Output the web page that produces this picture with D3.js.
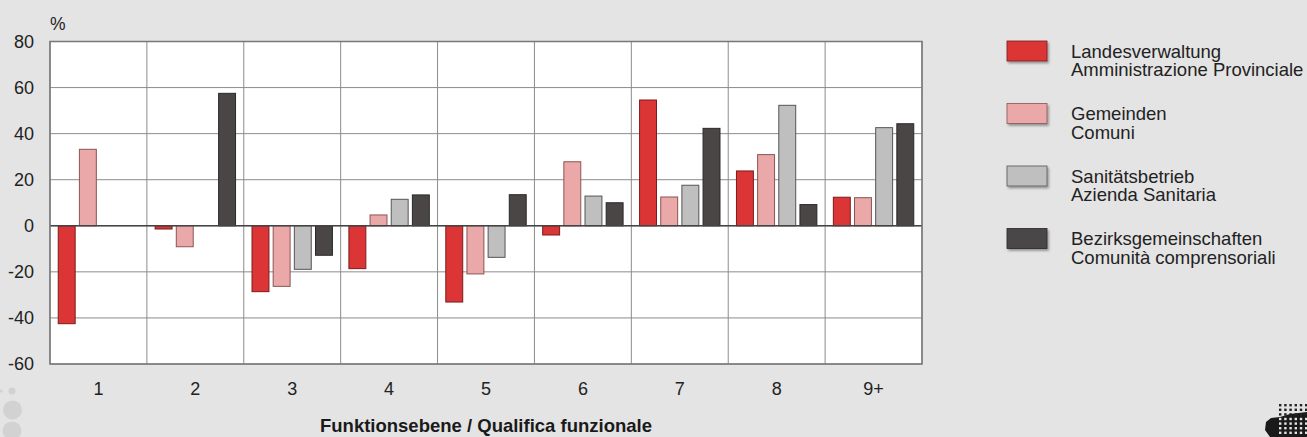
<!DOCTYPE html>
<html><head><meta charset="utf-8">
<script src="https://cdn.jsdelivr.net/npm/d3@7/dist/d3.min.js"></script>
<style>
html,body{margin:0;padding:0;background:#e4e4e4;}
svg{display:block;font-family:"Liberation Sans",Arial,sans-serif;}
</style></head>
<body><svg id="c" width="1307" height="437"></svg>
<script>
const categories = ["1","2","3","4","5","6","7","8","9+"];
const seriesNames = [
  ["Landesverwaltung","Amministrazione Provinciale"],
  ["Gemeinden","Comuni"],
  ["Sanitätsbetrieb","Azienda Sanitaria"],
  ["Bezirksgemeinschaften","Comunità comprensoriali"]
];
const landesverwaltung = [-42.5, -1.4, -28.6, -18.6, -33.1, -4, 54.6, 23.8, 12.4];
const gemeinden        = [33.2, -9.1, -26.3, 4.7, -20.9, 27.8, 12.5, 30.9, 12.2];
const sanitaetsbetrieb = [0, 0, -18.9, 11.5, -13.7, 12.9, 17.6, 52.3, 42.6];
const bezirksgem       = [0, 57.5, -12.8, 13.4, 13.5, 10, 42.3, 9.2, 44.3];
const yTicks = [-60,-40,-20,0,20,40,60,80];
const colors = ["#dc3535","#eba8a8","#bfbfbf","#4a4646"];
const strokes = ["#7a1c1c","#8a5555","#555555","#2a2828"];

const series = [landesverwaltung, gemeinden, sanitaetsbetrieb, bezirksgem];
const svg = d3.select("#c");
const L = 50, R = 922, T = 41.5, B = 364;

const x = d3.scaleBand().domain(categories).range([L, R]).paddingInner(0).paddingOuter(0);
const y = d3.scaleLinear().domain([-60, 80]).range([B, T]);
const inner = d3.scaleBand().domain(d3.range(4)).range([0.085*x.bandwidth(), 0.915*x.bandwidth()]).paddingInner(0.2);

svg.append("rect").attr("x", L).attr("y", T).attr("width", R-L).attr("height", B-T).attr("fill", "#ffffff");

const g = svg.append("g");
g.selectAll(".h").data(yTicks).enter().append("line")
  .attr("x1", L).attr("x2", R).attr("y1", d=>y(d)).attr("y2", d=>y(d))
  .attr("stroke", "#8c8c8c").attr("stroke-width", 1);
const vlines = categories.map(c=>x(c)).concat([R]);
g.selectAll(".v").data(vlines).enter().append("line")
  .attr("x1", d=>d).attr("x2", d=>d).attr("y1", T).attr("y2", B)
  .attr("stroke", "#8c8c8c").attr("stroke-width", 1);

series.forEach((vals, si) => {
  svg.append("g").selectAll("rect").data(vals.map((v,i)=>({v, c:categories[i]})).filter(d=>d.v!==0))
    .enter().append("rect")
    .attr("x", d => x(d.c) + inner(si))
    .attr("width", inner.bandwidth())
    .attr("y", d => y(Math.max(0, d.v)))
    .attr("height", d => Math.abs(y(d.v) - y(0)))
    .attr("fill", colors[si]).attr("stroke", strokes[si]).attr("stroke-width", 1);
});

svg.append("line").attr("x1", L).attr("x2", R).attr("y1", y(0)).attr("y2", y(0)).attr("stroke", "#444").attr("stroke-width", 1.5);
svg.append("rect").attr("x", L).attr("y", T).attr("width", R-L).attr("height", B-T)
  .attr("fill", "none").attr("stroke", "#777").attr("stroke-width", 1.5);

svg.append("g").selectAll("text").data(yTicks).enter().append("text")
  .attr("x", 34).attr("y", d=>y(d)).attr("dy", "0.36em").attr("text-anchor", "end")
  .attr("font-size", "18px").attr("fill", "#222").text(d=>d);
svg.append("text").attr("x", 50).attr("y", 30).attr("font-size", "17.5px").attr("fill", "#222").text("%");

svg.append("g").selectAll("text").data(categories).enter().append("text")
  .attr("x", d=>x(d)+x.bandwidth()/2).attr("y", 389).attr("dy", "0.36em").attr("text-anchor", "middle")
  .attr("font-size", "18px").attr("fill", "#222").text(d=>d);

svg.append("text").attr("x", 486).attr("y", 432).attr("text-anchor", "middle")
  .attr("font-size", "18.5px").attr("font-weight", "bold").attr("fill", "#1a1a1a")
  .text("Funktionsebene / Qualifica funzionale");

const defs = svg.append("defs");
const f = defs.append("filter").attr("id","sh").attr("x","-20%").attr("y","-20%").attr("width","150%").attr("height","170%");
f.append("feDropShadow").attr("dx",1.5).attr("dy",2).attr("stdDeviation",1.2).attr("flood-color","#000").attr("flood-opacity",0.35);
const lg = svg.append("g");
seriesNames.forEach((nm, i) => {
  const yy = 41 + i*62.5;
  lg.append("rect").attr("x", 1007).attr("y", yy).attr("width", 40).attr("height", 20)
    .attr("fill", colors[i]).attr("stroke", strokes[i]).attr("stroke-width", 0.8).attr("filter","url(#sh)");
  lg.append("text").attr("x", 1071).attr("y", yy+16.5).attr("font-size", "18.5px").attr("fill","#222").text(nm[0]);
  lg.append("text").attr("x", 1071).attr("y", yy+35).attr("font-size", "18.5px").attr("fill","#222").text(nm[1]);
});

const deco = svg.append("g").attr("fill", "#d2d2d2");
[[12,391,3.5],[12.5,410,9.5],[12,431,9.5],[1,391,1.5]].forEach(c=>deco.append("circle").attr("cx",c[0]).attr("cy",c[1]).attr("r",c[2]));

const logo = svg.append("g");
logo.append("path").attr("d","M1270,437 L1265,430 L1266,422 L1271,418 L1280,417 L1290,414 L1307,412 L1307,437 Z").attr("fill","#1a1a1a");
for (let r=0; r<7; r++) for (let c=0; c<6; c++) {
  logo.append("rect").attr("x", 1279 + c*5.2).attr("y", 404 + r*4.6).attr("width", 2.4).attr("height", 2.4).attr("fill", r>2 ? "#e4e4e4" : "#222");
}
</script></body></html>
